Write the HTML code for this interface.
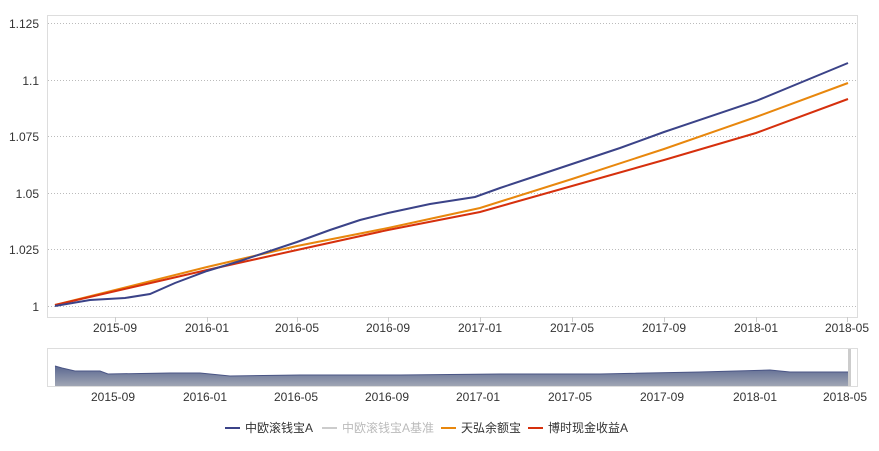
<!DOCTYPE html>
<html><head><meta charset="utf-8"><style>
body{margin:0;background:#fff;}
svg text{font-family:"Liberation Sans","Noto Sans CJK SC",sans-serif;font-size:12px;fill:#333;}
</style></head><body>
<svg width="879" height="446" xmlns="http://www.w3.org/2000/svg">
<defs><linearGradient id="g" x1="0" y1="0" x2="0" y2="1"><stop offset="0" stop-color="#5a6790"/><stop offset="1" stop-color="#a0a6b4"/></linearGradient></defs>
<rect x="47.5" y="15.5" width="810" height="302" fill="none" stroke="#ddd"/>
<g stroke="#bbb" stroke-dasharray="1,2" stroke-width="1">
<line x1="48" y1="23.5" x2="857" y2="23.5"/><line x1="48" y1="80.5" x2="857" y2="80.5"/><line x1="48" y1="136.5" x2="857" y2="136.5"/><line x1="48" y1="193.5" x2="857" y2="193.5"/><line x1="48" y1="249.5" x2="857" y2="249.5"/><line x1="48" y1="306.5" x2="857" y2="306.5"/>
</g>
<g text-anchor="end">
<text x="39" y="28">1.125</text><text x="39" y="85">1.1</text><text x="39" y="141">1.075</text><text x="39" y="198">1.05</text><text x="39" y="254">1.025</text><text x="39" y="311">1</text>
</g>
<g stroke="#ccc"><line x1="115.5" y1="317" x2="115.5" y2="322"/><line x1="207.5" y1="317" x2="207.5" y2="322"/><line x1="297.5" y1="317" x2="297.5" y2="322"/><line x1="388.5" y1="317" x2="388.5" y2="322"/><line x1="480.5" y1="317" x2="480.5" y2="322"/><line x1="572.5" y1="317" x2="572.5" y2="322"/><line x1="664.5" y1="317" x2="664.5" y2="322"/><line x1="756.5" y1="317" x2="756.5" y2="322"/><line x1="847.5" y1="317" x2="847.5" y2="322"/></g>
<g text-anchor="middle">
<text x="115" y="332">2015-09</text><text x="207" y="332">2016-01</text><text x="297" y="332">2016-05</text><text x="388" y="332">2016-09</text><text x="480" y="332">2017-01</text><text x="572" y="332">2017-05</text><text x="664" y="332">2017-09</text><text x="756" y="332">2018-01</text><text x="847" y="332">2018-05</text>
</g>
<polyline fill="none" stroke="#e8870d" stroke-width="2" points="55,305 207,267 297,246 388,228 480,208 572,179 664,149 756,117 848,83"/>
<polyline fill="none" stroke="#d6300d" stroke-width="2" points="55,305 207,270 297,250 388,230 480,212 572,186 664,160 756,133 848,99"/>
<polyline fill="none" stroke="#3b4388" stroke-width="2" points="55,306 90,300 125,298 150,294 175,283 207,271 240,261 297,242 330,230 360,220 388,213 430,204 475,197 500,188 530,178 572,164 620,148 664,132 756,101 848,63"/>
<rect x="47.5" y="348.5" width="810" height="38" fill="none" stroke="#ddd"/>
<path d="M55,366 L62,368 L75,371 L100,371 L108,374 L170,373 L200,373 L230,376 L300,375 L400,375 L500,374 L600,374 L700,372 L770,370 L790,372 L848,372 L848,386 L55,386 Z" fill="url(#g)"/>
<path d="M55,366 L62,368 L75,371 L100,371 L108,374 L170,373 L200,373 L230,376 L300,375 L400,375 L500,374 L600,374 L700,372 L770,370 L790,372 L848,372" fill="none" stroke="#4a5585"/>
<rect x="848" y="349" width="3" height="37" fill="#ccc"/>
<g text-anchor="middle">
<text x="113" y="401">2015-09</text><text x="205" y="401">2016-01</text><text x="296" y="401">2016-05</text><text x="387" y="401">2016-09</text><text x="478" y="401">2017-01</text><text x="570" y="401">2017-05</text><text x="662" y="401">2017-09</text><text x="755" y="401">2018-01</text><text x="845" y="401">2018-05</text>
</g>
<g stroke-width="2"><line x1="225" y1="428" x2="240" y2="428" stroke="#3b4388"/><line x1="322" y1="428" x2="337" y2="428" stroke="#ccc"/><line x1="441" y1="428" x2="456" y2="428" stroke="#e8870d"/><line x1="528" y1="428" x2="543" y2="428" stroke="#d6300d"/></g>
<text x="245" y="432">中欧滚钱宝A</text><text x="342" y="432" style="fill:#bbb">中欧滚钱宝A基准</text><text x="461" y="432">天弘余额宝</text><text x="548" y="432">博时现金收益A</text>
</svg>
</body></html>
